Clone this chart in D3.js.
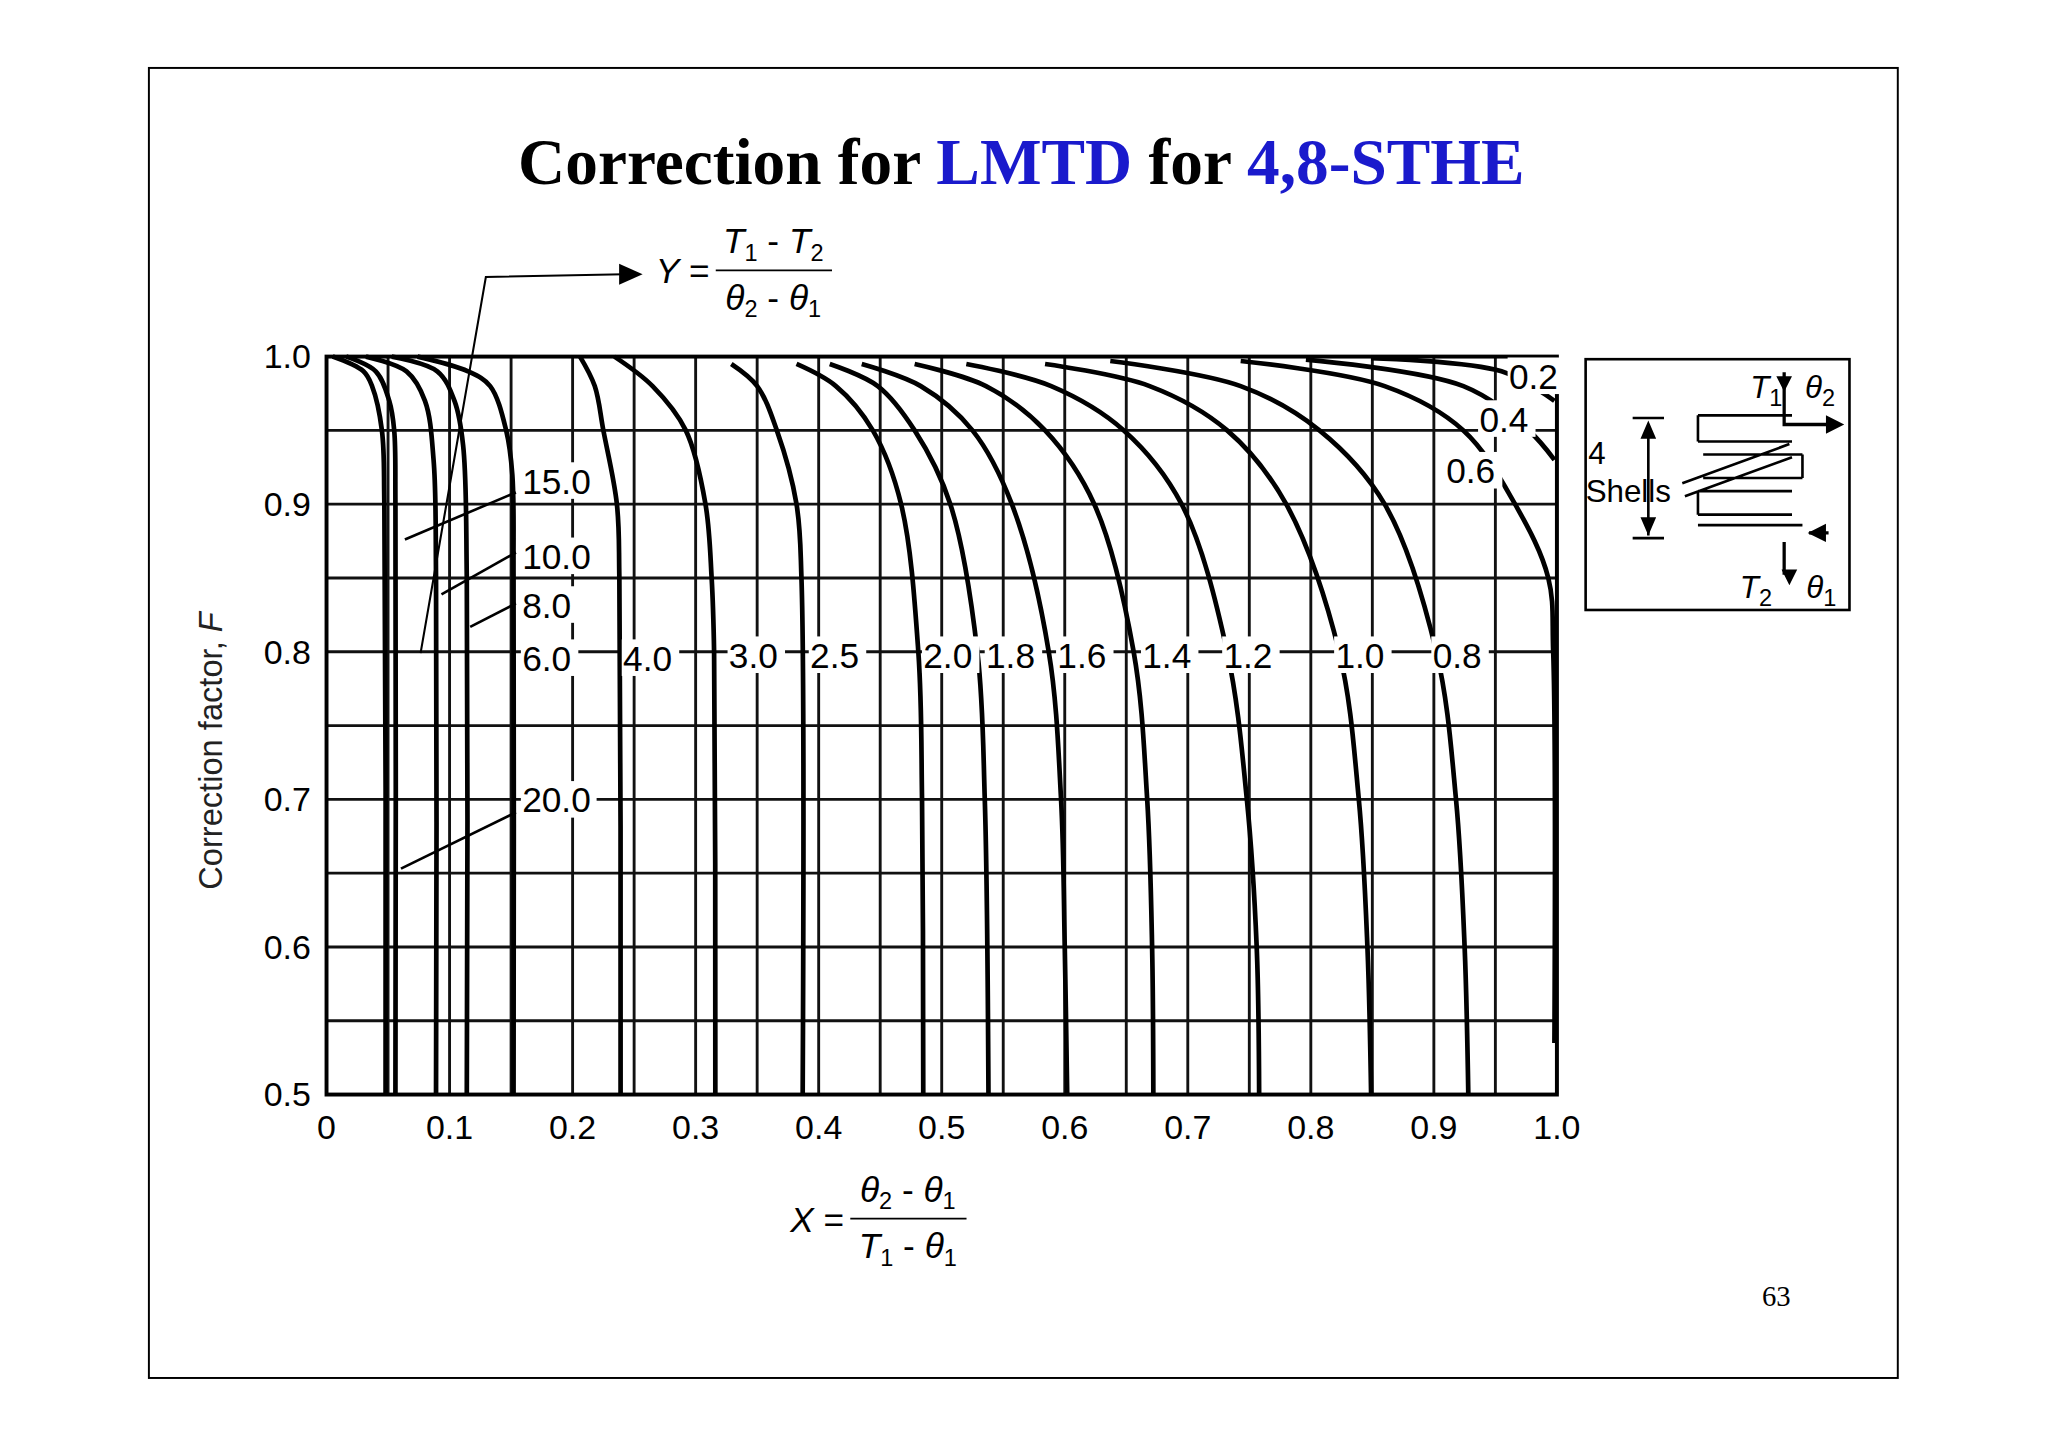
<!DOCTYPE html>
<html><head><meta charset="utf-8">
<script src="https://cdn.jsdelivr.net/npm/d3@7.9.0/dist/d3.min.js"></script>
<style>body{margin:0;background:#fff}</style>
</head><body>
<svg id="chart" width="2048" height="1448" viewBox="0 0 1568 1108.6"></svg>
<script>
// Y = (T1-T2)/(θ2-θ1) curves as [X, F]
const curves = [
  { y: '20.0', pts: [[0.005,1.0],[0.030,0.99],[0.037,0.98],[0.045,0.95],[0.047,0.9],[0.048,0.5]] },
  { y: '15.0', pts: [[0.016,1.0],[0.040,0.99],[0.051,0.97],[0.055,0.95],[0.056,0.9],[0.056,0.5]] },
  { y: '10.0', pts: [[0.032,1.0],[0.065,0.99],[0.080,0.97],[0.087,0.93],[0.089,0.85],[0.089,0.5]] },
  { y: '8.0',  pts: [[0.053,1.0],[0.090,0.99],[0.104,0.97],[0.111,0.94],[0.114,0.85],[0.114,0.5]] },
  { y: '6.0',  pts: [[0.074,1.0],[0.115,0.99],[0.133,0.98],[0.146,0.95],[0.151,0.92],[0.152,0.85],[0.152,0.5]] },
  { y: '4.0',  pts: [[0.206,1.0],[0.218,0.98],[0.225,0.95],[0.236,0.9],[0.238,0.85],[0.239,0.5]] },
  { y: '3.0',  pts: [[0.234,1.0],[0.265,0.98],[0.292,0.95],[0.308,0.9],[0.313,0.85],[0.315,0.8],[0.316,0.5]] },
  { y: '2.5',  pts: [[0.329,0.995],[0.350,0.98],[0.366,0.95],[0.382,0.9],[0.386,0.85],[0.387,0.5]] },
  { y: '2.0',  pts: [[0.382,0.995],[0.414,0.98],[0.444,0.95],[0.467,0.9],[0.481,0.8],[0.484,0.7],[0.485,0.5]] },
  { y: '1.8',  pts: [[0.409,0.995],[0.448,0.98],[0.478,0.95],[0.507,0.9],[0.529,0.8],[0.535,0.7],[0.538,0.5]] },
  { y: '1.6',  pts: [[0.435,0.995],[0.483,0.98],[0.525,0.95],[0.557,0.9],[0.587,0.8],[0.597,0.7],[0.600,0.6],[0.602,0.5]] },
  { y: '1.4',  pts: [[0.478,0.995],[0.536,0.98],[0.584,0.95],[0.624,0.9],[0.656,0.8],[0.667,0.7],[0.671,0.6],[0.672,0.5]] },
  { y: '1.2',  pts: [[0.520,0.995],[0.589,0.98],[0.648,0.95],[0.695,0.9],[0.732,0.8],[0.748,0.7],[0.756,0.6],[0.758,0.5]] },
  { y: '1.0',  pts: [[0.584,0.995],[0.669,0.98],[0.732,0.95],[0.780,0.9],[0.823,0.8],[0.839,0.7],[0.846,0.6],[0.849,0.5]] },
  { y: '0.8',  pts: [[0.637,0.997],[0.743,0.98],[0.807,0.95],[0.860,0.9],[0.902,0.8],[0.918,0.7],[0.925,0.6],[0.928,0.5]] },
  { y: '0.6',  pts: [[0.743,0.997],[0.860,0.98],[0.924,0.95],[0.966,0.9],[0.993,0.85],[0.997,0.8],[0.998,0.535]] },
  { y: '0.4',  pts: [[0.796,0.998],[0.924,0.98],[0.977,0.95],[0.998,0.93]] },
  { y: '0.2',  pts: [[0.849,0.999],[0.955,0.99],[0.998,0.97]] }
];
// label anchor positions [X, F]
const curveLabels = [
  ['20.0',0.159,0.700],['15.0',0.159,0.916],['10.0',0.159,0.865],['8.0',0.159,0.832],
  ['6.0',0.159,0.796],['4.0',0.241,0.796],['3.0',0.327,0.798],['2.5',0.393,0.798],
  ['2.0',0.485,0.798],['1.8',0.536,0.798],['1.6',0.594,0.798],['1.4',0.663,0.798],
  ['1.2',0.729,0.798],['1.0',0.820,0.798],['0.8',0.899,0.798],['0.6',0.910,0.923],
  ['0.4',0.937,0.958],['0.2',0.961,0.987]
];
const xTicks = [0,0.1,0.2,0.3,0.4,0.5,0.6,0.7,0.8,0.9,1.0];
const xTickLabels = ['0','0.1','0.2','0.3','0.4','0.5','0.6','0.7','0.8','0.9','1.0'];
const yTicks = [0.5,0.6,0.7,0.8,0.9,1.0];
const gridStep = 0.05;

const svg = d3.select('#chart');
const x = d3.scaleLinear().domain([0,1]).range([250,1192]);
const y = d3.scaleLinear().domain([0.5,1]).range([838,273]);
const font = 'Liberation Sans, Arial, sans-serif';

// slide frame + title
svg.append('rect').attr('x',114).attr('y',52).attr('width',1339).attr('height',1003)
  .attr('fill','none').attr('stroke','#000').attr('stroke-width',1.5);
const title = svg.append('text').attr('x',782).attr('y',141).attr('text-anchor','middle')
  .attr('font-family','Liberation Serif, Times New Roman, serif').attr('font-weight','bold').attr('font-size',50);
title.append('tspan').text('Correction for ');
title.append('tspan').attr('fill','#1a1acc').text('LMTD');
title.append('tspan').text(' for ');
title.append('tspan').attr('fill','#1a1acc').text('4,8-STHE');
svg.append('text').attr('x',1360).attr('y',1000).attr('text-anchor','middle')
  .attr('font-family','Liberation Serif, serif').attr('font-size',22).text('63');

// grid
const gx = d3.range(0, 1.0001, gridStep), gy = d3.range(0.5, 1.0001, gridStep);
svg.append('g').selectAll('line').data(gx).join('line')
  .attr('x1',d=>x(d)).attr('x2',d=>x(d)).attr('y1',y(1)).attr('y2',y(0.5))
  .attr('stroke','#111').attr('stroke-width',2.2);
svg.append('g').selectAll('line').data(gy).join('line')
  .attr('x1',x(0)).attr('x2',x(1)).attr('y1',d=>y(d)).attr('y2',d=>y(d))
  .attr('stroke','#111').attr('stroke-width',2.2);
svg.append('rect').attr('x',x(0)).attr('y',y(1)).attr('width',x(1)-x(0)).attr('height',y(0.5)-y(1))
  .attr('fill','none').attr('stroke','#000').attr('stroke-width',3);

// axes tick labels
svg.append('g').selectAll('text').data(xTicks).join('text')
  .attr('x',d=>x(d)).attr('y',872).attr('text-anchor','middle')
  .attr('font-family',font).attr('font-size',26).text((d,i)=>xTickLabels[i]);
svg.append('g').selectAll('text').data(yTicks).join('text')
  .attr('x',238).attr('y',d=>y(d)+9).attr('text-anchor','end')
  .attr('font-family',font).attr('font-size',26).text(d=>d.toFixed(1));
svg.append('text').attr('transform','translate(170,575) rotate(-90)').attr('text-anchor','middle')
  .attr('font-family',font).attr('font-size',25).attr('fill','#222')
  .html('Correction factor, <tspan font-style="italic">F</tspan>');

// curves
const line = d3.line().x(d=>x(d[0])).y(d=>y(d[1])).curve(d3.curveCatmullRom.alpha(0.5));
svg.append('g').selectAll('path').data(curves).join('path')
  .attr('d',d=>line(d.pts))
  .attr('fill','none').attr('stroke','#000').attr('stroke-width',3.6);

// leader lines
const leaders = [[310,413,395,377],[338,455,395,423],[360,480,395,462],[307,665,395,622]];
svg.append('g').selectAll('line').data(leaders).join('line')
  .attr('x1',d=>d[0]).attr('y1',d=>d[1]).attr('x2',d=>d[2]).attr('y2',d=>d[3])
  .attr('stroke','#000').attr('stroke-width',2);
svg.append('path').attr('d','M322,500 L372,212 L478,210').attr('fill','none').attr('stroke','#000').attr('stroke-width',1.6);
svg.append('path').attr('d','M474,202 L492,210 L474,218 Z').attr('fill','#000');

// curve labels with white backing
const lg = svg.append('g').selectAll('g').data(curveLabels).join('g')
  .attr('transform',d=>`translate(${x(d[1])},${y(d[2])})`);
lg.append('rect').attr('x',-1).attr('y',-14).attr('width',d=>d[0].length*14+2).attr('height',28).attr('fill','#fff');
lg.append('text').attr('y',10).attr('font-family',font).attr('font-size',27).text(d=>d[0]);

// formulas
function frac(gx0, gy0, lhs, num, den) {
  const g = svg.append('g').attr('transform',`translate(${gx0},${gy0})`).attr('font-family',font).attr('font-size',27);
  g.append('text').attr('x',0).attr('y',10).html(`<tspan font-style="italic">${lhs}</tspan> =`);
  g.append('line').attr('x1',46).attr('x2',135).attr('y1',0).attr('y2',0).attr('stroke','#000').attr('stroke-width',1.5);
  g.append('text').attr('x',90).attr('y',-13).attr('text-anchor','middle').html(num);
  g.append('text').attr('x',90).attr('y',30).attr('text-anchor','middle').html(den);
}
const sub = s => `<tspan font-size="18" dy="6">${s}</tspan><tspan dy="-6"> </tspan>`;
const T = i => `<tspan font-style="italic">T</tspan>${sub(i)}`, th = i => `<tspan font-style="italic">θ</tspan>${sub(i)}`;
frac(502, 207, 'Y', `${T(1)}- ${T(2)}`, `${th(2)}- ${th(1)}`);
frac(605, 933, 'X', `${th(2)}- ${th(1)}`, `${T(1)}- ${th(1)}`);

// inset schematic
const ins = svg.append('g').attr('font-family',font);
ins.append('rect').attr('x',1214).attr('y',275).attr('width',202).attr('height',192).attr('fill','none').attr('stroke','#000').attr('stroke-width',2);
ins.append('text').attr('x',1340).attr('y',305).attr('font-size',24).html(`${T(1)}`);
ins.append('text').attr('x',1382).attr('y',305).attr('font-size',24).html(`${th(2)}`);
ins.append('text').attr('x',1332).attr('y',458).attr('font-size',24).html(`${T(2)}`);
ins.append('text').attr('x',1383).attr('y',458).attr('font-size',24).html(`${th(1)}`);
ins.append('text').attr('x',1216).attr('y',355).attr('font-size',24).text('4');
ins.append('text').attr('x',1214).attr('y',384).attr('font-size',24).text('Shells');
ins.append('path').attr('d','M1262,330 L1262,410 M1250,320 L1274,320 M1250,412 L1274,412').attr('stroke','#000').attr('stroke-width',2);
ins.append('path').attr('d','M1262,322 L1256,336 L1268,336 Z M1262,410 L1256,396 L1268,396 Z M1366,300 L1360,288 L1372,288 Z M1370,448 L1364,436 L1376,436 Z').attr('fill','#000');
ins.append('path').attr('d','M1300,318 H1372 M1300,338 H1372 M1304,348 H1380 M1304,366 H1380 M1300,376 H1372 M1300,394 H1372 M1300,402 H1380 M1300,318 V338 M1300,376 V394 M1380,348 V366 M1288,370 L1370,340 M1290,380 L1372,350')
  .attr('fill','none').attr('stroke','#000').attr('stroke-width',2);
ins.append('path').attr('d','M1366,285 V325 H1400 M1366,415 V440 M1385,408 H1400').attr('fill','none').attr('stroke','#000').attr('stroke-width',2.5);
ins.append('path').attr('d','M1398,318 L1412,325 L1398,332 Z M1384,408 L1398,401 L1398,415 Z').attr('fill','#000');
</script>
</body></html>
